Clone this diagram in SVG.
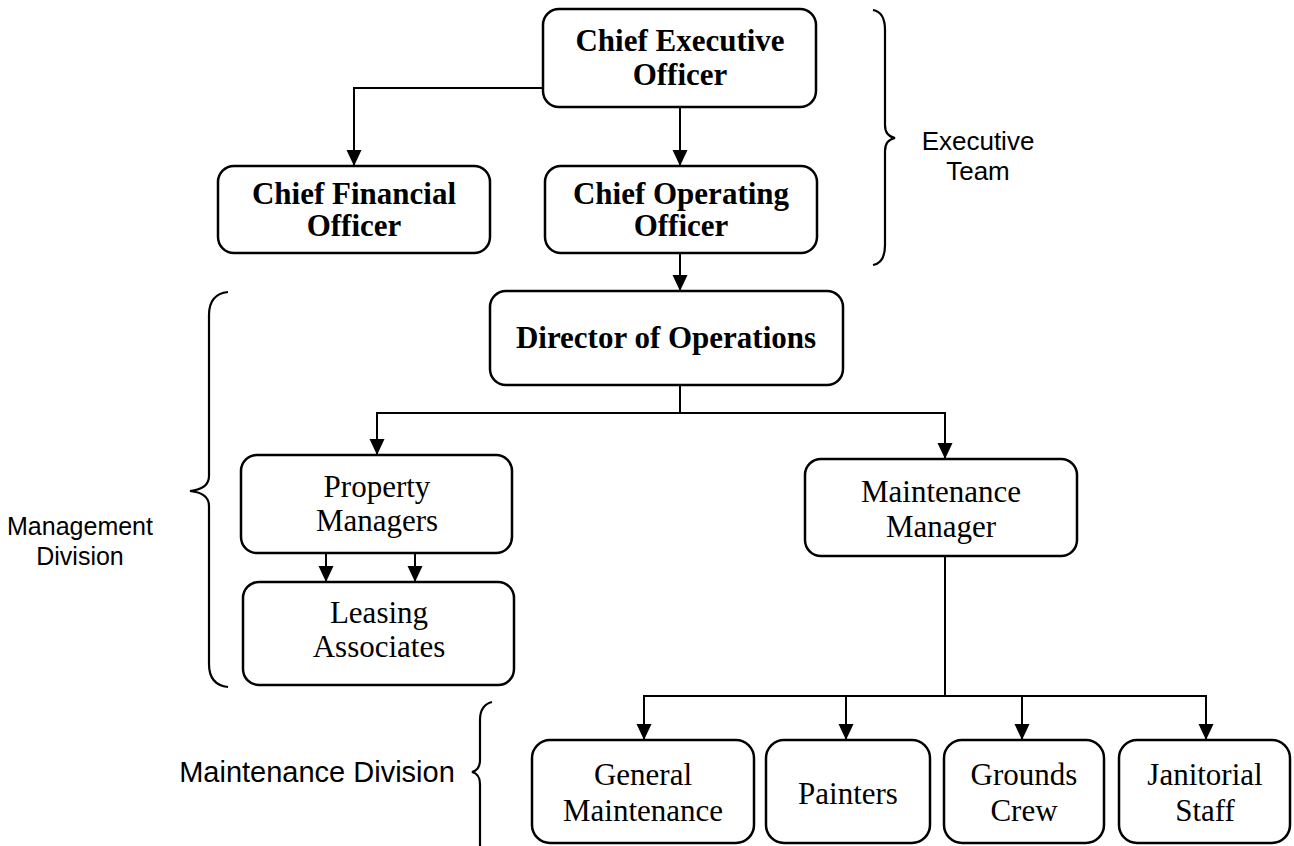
<svg xmlns="http://www.w3.org/2000/svg" width="1294" height="846" viewBox="0 0 1294 846">
<defs>
<marker id="arr" markerWidth="16" markerHeight="16" refX="16" refY="7.5" orient="auto" markerUnits="userSpaceOnUse">
<path d="M0,0 L16,7.5 L0,15 Z" fill="#000"/>
</marker>
<style>
.box{fill:#fff;stroke:#000;stroke-width:2.5}
.bt{font-family:"Liberation Serif","Times New Roman",serif;font-weight:bold;font-size:31px;text-anchor:middle;fill:#000}
.rt{font-family:"Liberation Serif","Times New Roman",serif;font-size:31px;text-anchor:middle;fill:#000}
.lbl{font-family:"Liberation Sans",Arial,sans-serif;fill:#000;text-anchor:middle}
.ln{fill:none;stroke:#000;stroke-width:2}
.br{fill:none;stroke:#000;stroke-width:2.2}
</style>
</defs>
<rect width="1294" height="846" fill="#fff"/>

<g id="connectors">
<path class="ln" d="M543,88 H354 V166" marker-end="url(#arr)"/>
<path class="ln" d="M680,107 V166" marker-end="url(#arr)"/>
<path class="ln" d="M680,253 V291" marker-end="url(#arr)"/>
<path class="ln" d="M680,385 V413 H377 V455" marker-end="url(#arr)"/>
<path class="ln" d="M680,413 H945 V459" marker-end="url(#arr)"/>
<path class="ln" d="M326,553 V582" marker-end="url(#arr)"/>
<path class="ln" d="M415,553 V582" marker-end="url(#arr)"/>
<path class="ln" d="M945,556 V696 H644 V740" marker-end="url(#arr)"/>
<path class="ln" d="M846,696 V740" marker-end="url(#arr)"/>
<path class="ln" d="M945,696 H1206 V740" marker-end="url(#arr)"/>
<path class="ln" d="M1022,696 V740" marker-end="url(#arr)"/>
</g>

<g id="ceo">
<rect class="box" x="543" y="9" width="273" height="98" rx="16"/>
<text class="bt" x="680" y="51">Chief Executive</text>
<text class="bt" x="680" y="85">Officer</text>
</g>
<g id="cfo">
<rect class="box" x="218" y="166" width="272" height="87" rx="16"/>
<text class="bt" x="354" y="204">Chief Financial</text>
<text class="bt" x="354" y="236">Officer</text>
</g>
<g id="coo">
<rect class="box" x="545" y="166" width="272" height="87" rx="16"/>
<text class="bt" x="681" y="204">Chief Operating</text>
<text class="bt" x="681" y="236">Officer</text>
</g>
<g id="director">
<rect class="box" x="490" y="291" width="353" height="94" rx="16"/>
<text class="bt" x="666" y="348">Director of Operations</text>
</g>
<g id="property-managers">
<rect class="box" x="241" y="455" width="271" height="98" rx="16"/>
<text class="rt" x="377" y="497">Property</text>
<text class="rt" x="377" y="531">Managers</text>
</g>
<g id="leasing-associates">
<rect class="box" x="243" y="582" width="271" height="103" rx="16"/>
<text class="rt" x="379" y="623">Leasing</text>
<text class="rt" x="379" y="657">Associates</text>
</g>
<g id="maintenance-manager">
<rect class="box" x="805" y="459" width="272" height="97" rx="16"/>
<text class="rt" x="941" y="502">Maintenance</text>
<text class="rt" x="941" y="537">Manager</text>
</g>
<g id="general-maintenance">
<rect class="box" x="532" y="740" width="222" height="103" rx="18"/>
<text class="rt" x="643" y="785">General</text>
<text class="rt" x="643" y="821">Maintenance</text>
</g>
<g id="painters">
<rect class="box" x="766" y="740" width="164" height="103" rx="18"/>
<text class="rt" x="848" y="804">Painters</text>
</g>
<g id="grounds-crew">
<rect class="box" x="944" y="740" width="160" height="103" rx="18"/>
<text class="rt" x="1024" y="785">Grounds</text>
<text class="rt" x="1024" y="821">Crew</text>
</g>
<g id="janitorial-staff">
<rect class="box" x="1119" y="740" width="171" height="103" rx="18"/>
<text class="rt" x="1205" y="785">Janitorial</text>
<text class="rt" x="1205" y="821">Staff</text>
</g>

<g id="executive-team">
<path class="br" d="M873,10 Q885,12 885,30 V125 Q885,136 895,138 Q885,140 885,151 V245 Q885,263 873,265"/>
<text class="lbl" x="978" y="150" font-size="26">Executive</text>
<text class="lbl" x="978" y="180" font-size="26">Team</text>
</g>
<g id="management-division">
<path class="br" d="M228,292 Q209,294 209,315 V476 Q209,489 190,491 Q209,493 209,506 V664 Q209,685 228,687"/>
<text class="lbl" x="80" y="535" font-size="25">Management</text>
<text class="lbl" x="80" y="565" font-size="25">Division</text>
</g>
<g id="maintenance-division">
<path class="br" d="M492,702 Q480,705 480,720 V760 Q480,770 472,772 Q480,774 480,784 V846"/>
<text class="lbl" x="317" y="782" font-size="29">Maintenance Division</text>
</g>
</svg>
